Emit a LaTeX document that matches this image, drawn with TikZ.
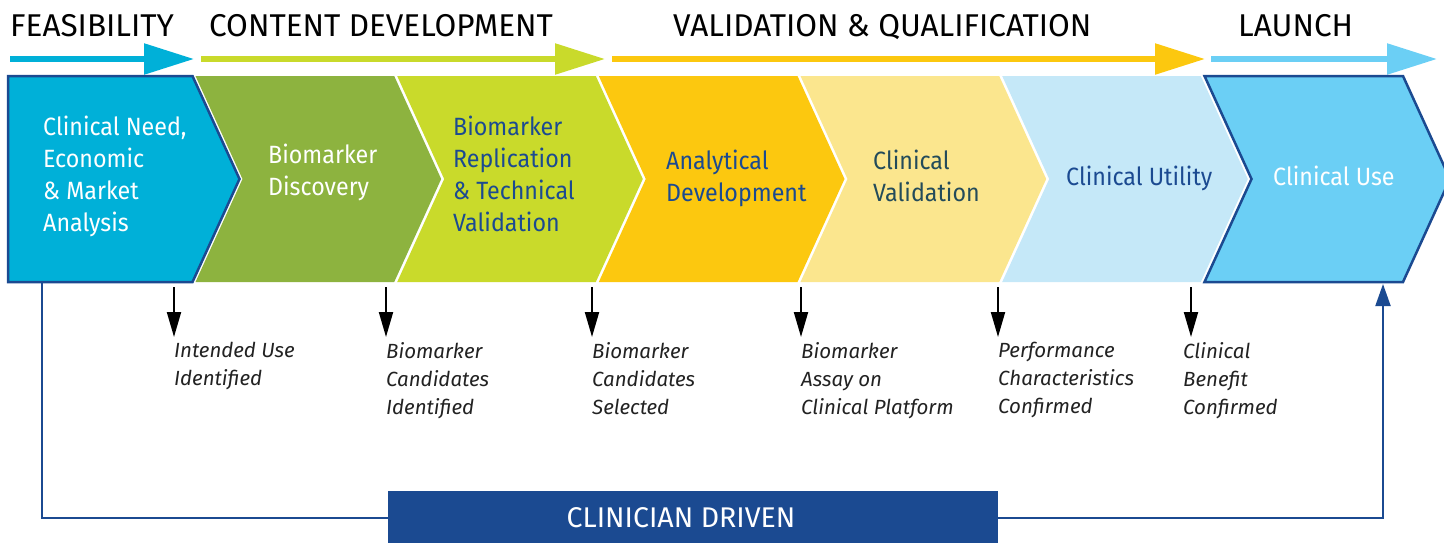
\documentclass[tikz,border=0pt]{standalone}
\usepackage{fontspec}
\usepackage{graphicx}
\setmainfont{Fira Sans}
\newfontfamily\titfont{Fira Sans}
\newfontfamily\boxfont{Fira Sans}[FakeStretch=0.93]
\newfontfamily\labfont{Fira Sans}
\usetikzlibrary{arrows.meta}
\definecolor{cyanA}{HTML}{00B0D8}
\definecolor{oliveB}{HTML}{8DB33F}
\definecolor{limeC}{HTML}{C9DA2B}
\definecolor{yelD}{HTML}{FCC80F}
\definecolor{paleE}{HTML}{FBE68E}
\definecolor{paleF}{HTML}{C5E8F8}
\definecolor{ltblueG}{HTML}{6BCFF5}
\definecolor{navy}{HTML}{1B4A91}
\definecolor{slate}{HTML}{234B5A}
\definecolor{ink}{HTML}{222222}
\begin{document}
\begin{tikzpicture}[x=1pt,y=-1pt,
  title/.style={anchor=base west, inner sep=0, font=\titfont\fontsize{31.5}{36}\selectfont, text=black},
  phasearrow/.style={line width=5.5pt, -{Triangle[length=50pt,width=30pt]}},
  boxtext/.style={anchor=north west, inner sep=0, align=left, font=\boxfont\fontsize{25}{32}\selectfont},
  outlined/.style={draw=navy, line width=2.5pt, line join=miter},
  milestone/.style={anchor=north west, inner sep=0, align=left, text=ink, font=\labfont\itshape\fontsize{20.5}{28}\selectfont},
  downarrow/.style={line width=2pt, black, -{Triangle[length=25pt,width=14pt]}},
  feedback/.style={line width=2pt, navy}
]
\useasboundingbox (0,0) rectangle (1444,542);
\clip (0,0) rectangle (1444,542);

% phase titles
\node[title] (tf) at (10,36) {FEASIBILITY};
\node[title] (tc) at (209,36) {CONTENT DEVELOPMENT};
\node[title] (tv) at (673,36) {VALIDATION \& QUALIFICATION};
\node[title] (tl) at (1238,36) {LAUNCH};

% phase arrows
\coordinate (p1s) at (10,59);   \coordinate (p1e) at (194,59);
\coordinate (p2s) at (201,59);  \coordinate (p2e) at (605,59);
\coordinate (p3s) at (612,59);  \coordinate (p3e) at (1205,59);
\coordinate (p4s) at (1211,59); \coordinate (p4e) at (1437,59);
\draw[phasearrow, cyanA] (p1s) -- (p1e);
\draw[phasearrow, limeC] (p2s) -- (p2e);
\draw[phasearrow, yelD] (p3s) -- (p3e);
\draw[phasearrow, ltblueG] (p4s) -- (p4e);

% chevrons
\fill[cyanA] (8,76) -- (192.5,76) -- (239.5,179) -- (192.5,282) -- (8,282) -- cycle;
\fill[oliveB] (195.5,76) -- (394.2,76) -- (441.2,179) -- (394.2,282) -- (195.5,282) -- (242.5,179) -- cycle;
\fill[limeC] (397.2,76) -- (595.8,76) -- (642.8,179) -- (595.8,282) -- (397.2,282) -- (444.2,179) -- cycle;
\fill[yelD] (598.8,76) -- (797.5,76) -- (844.5,179) -- (797.5,282) -- (598.8,282) -- (645.8,179) -- cycle;
\fill[paleE] (800.5,76) -- (999.2,76) -- (1046.2,179) -- (999.2,282) -- (800.5,282) -- (847.5,179) -- cycle;
\fill[paleF] (1002.2,76) -- (1200.8,76) -- (1247.8,179) -- (1200.8,282) -- (1002.2,282) -- (1049.2,179) -- cycle;
\fill[ltblueG] (1204.5,76) -- (1403,76) -- (1450,179) -- (1403,282) -- (1204.5,282) -- (1251.5,179) -- cycle;
\draw[outlined] (8,76) -- (192.5,76) -- (239.5,179) -- (192.5,282) -- (8,282) -- cycle;
\draw[outlined] (1204.5,76) -- (1403,76) -- (1450,179) -- (1403,282) -- (1204.5,282) -- (1251.5,179) -- cycle;

% chevron texts
\node[boxtext, text=white] (b1) at (43,116) {Clinical Need,\\Economic\\\& Market\\Analysis};
\node[boxtext, text=white] (b2) at (268,144) {Biomarker\\Discovery};
\node[boxtext, text=navy] (b3) at (453,116) {Biomarker\\Replication\\\& Technical\\Validation};
\node[boxtext, text=navy] (b4) at (666,150) {Analytical\\Development};
\node[boxtext, text=slate] (b5) at (873,150) {Clinical\\Validation};
\node[boxtext, text=navy] (b6) at (1066,166) {Clinical Utility};
\node[boxtext, text=white] (b7) at (1273,166) {Clinical Use};

% milestones
\foreach \i/\x in {1/174,2/386,3/592,4/801,5/998,6/1191}{
  \coordinate (m\i a) at (\x,287);
  \coordinate (m\i b) at (\x,337);
  \draw[downarrow] (m\i a) -- (m\i b);
}
\node[milestone] (l1) at (174,342) {Intended Use\\Identified};
\node[milestone] (l2) at (386,342) {Biomarker\\Candidates\\Identified};
\node[milestone] (l3) at (592,342) {Biomarker\\Candidates\\Selected};
\node[milestone] (l4) at (801,342) {Biomarker\\Assay on\\Clinical Platform};
\node[milestone] (l5) at (998,342) {Performance\\Characteristics\\Confirmed};
\node[milestone] (l6) at (1183,342) {Clinical\\Benefit\\Confirmed};

% clinician driven
\node[fill=navy, minimum width=610pt, minimum height=54pt, inner sep=0, text=white,
      font=\titfont\fontsize{28.5}{32}\selectfont] (cd) at (693,518) {\hspace*{-24pt}CLINICIAN DRIVEN};
\coordinate (fbs) at (42,283);
\coordinate (fbe) at (1383,284);
\draw[feedback] (fbs) |- (cd.west);
\draw[feedback, -{Triangle[length=22pt,width=15pt]}] (cd.east) -| (fbe);
\end{tikzpicture}
\end{document}
